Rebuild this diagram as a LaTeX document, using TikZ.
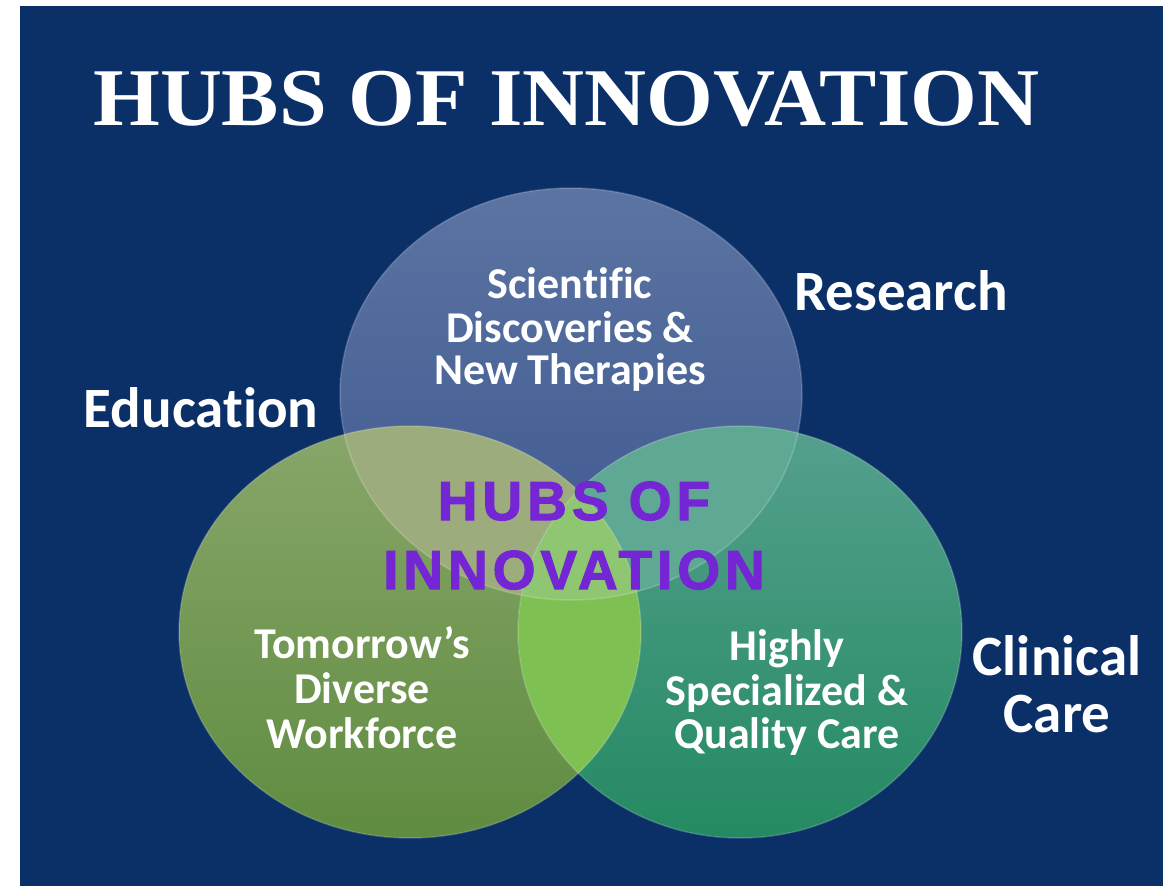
\documentclass[tikz,border=0pt]{standalone}
\usepackage{fontspec}
\setmainfont{Liberation Serif}
\newfontfamily\calib[Ligatures=NoCommon]{Carlito}
\newfontfamily\hubfont[LetterSpace=9,FakeBold=2]{Liberation Sans}
\definecolor{navy}{HTML}{0B3068}
\definecolor{topA}{HTML}{5B74A2}
\definecolor{topB}{HTML}{3E5890}
\definecolor{leftA}{HTML}{88A66A}
\definecolor{leftB}{HTML}{5F8C40}
\definecolor{rightA}{HTML}{55A08E}
\definecolor{rightB}{HTML}{248A62}
\definecolor{tlcol}{HTML}{9CAC7C}
\definecolor{trcol}{HTML}{5EA894}
\definecolor{lrcol}{HTML}{7FC052}
\definecolor{allcol}{HTML}{8EC672}
\definecolor{hubpurple}{HTML}{7526D4}
\tikzset{
  lbl/.style={text=white, inner sep=0pt, anchor=base, font=\calib\bfseries\fontsize{57}{57}\selectfont},
  ctext/.style={text=white, inner sep=0pt, anchor=base, font=\calib\bfseries\fontsize{44}{44}\selectfont},
  hubtext/.style={text=hubpurple, inner sep=0pt, anchor=base, font=\hubfont\bfseries\fontsize{55}{55}\selectfont},
  rim/.style={draw=white, draw opacity=0.18, line width=1.5pt}
}
\begin{document}
\begin{tikzpicture}[x=1pt,y=-1pt]
\useasboundingbox (0,0) rectangle (1176,886);
\fill[white] (0,0) rectangle (1176,886);
\fill[navy] (20,6) rectangle (1163,886);
% title
\node (title) [text=white, inner sep=0pt, anchor=base west, xscale=1.047, font=\bfseries\fontsize{82}{82}\selectfont] at (93,125) {HUBS OF INNOVATION};
% circles
\shade[top color=topA, bottom color=topB] (571,394) ellipse [x radius=231, y radius=206];
\shade[top color=leftA, bottom color=leftB] (410,632) ellipse [x radius=231, y radius=206];
\shade[top color=rightA, bottom color=rightB] (740,632) ellipse [x radius=222, y radius=206];
\begin{scope}
  \clip (571,394) ellipse [x radius=231, y radius=206];
  \fill[tlcol] (410,632) ellipse [x radius=231, y radius=206];
\end{scope}
\begin{scope}
  \clip (571,394) ellipse [x radius=231, y radius=206];
  \fill[trcol] (740,632) ellipse [x radius=222, y radius=206];
\end{scope}
\begin{scope}
  \clip (410,632) ellipse [x radius=231, y radius=206];
  \fill[lrcol] (740,632) ellipse [x radius=222, y radius=206];
\end{scope}
\begin{scope}
  \clip (571,394) ellipse [x radius=231, y radius=206];
  \clip (410,632) ellipse [x radius=231, y radius=206];
  \fill[allcol] (740,632) ellipse [x radius=222, y radius=206];
\end{scope}
\path[rim] (571,394) ellipse [x radius=231, y radius=206];
\path[rim] (410,632) ellipse [x radius=231, y radius=206];
\path[rim] (740,632) ellipse [x radius=222, y radius=206];
% outer labels
\node (research) [lbl] at (901,310) {Research};
\node (education) [lbl] at (201,427) {Education};
\node (clinical) [lbl] at (1057,675) {Clinical};
\node (care) [lbl] at (1057,732) {Care};
% circle texts
\node (sci1) [ctext] at (570,298) {Scientific};
\node (sci2) [ctext] at (570,342) {Discoveries \&};
\node (sci3) [ctext] at (570,384) {New Therapies};
\node (edu1) [ctext] at (362,658) {Tomorrow’s};
\node (edu2) [ctext] at (362,703) {Diverse};
\node (edu3) [ctext] at (362,748) {Workforce};
\node (cli1) [ctext] at (787,660) {Highly};
\node (cli2) [ctext] at (787,705) {Specialized \&};
\node (cli3) [ctext] at (787,748) {Quality Care};
% center
\node (hub1) [hubtext] at (574,520) {HUBS OF};
\node (hub2) [hubtext] at (574,589) {INNOVATION};
\end{tikzpicture}
\end{document}
